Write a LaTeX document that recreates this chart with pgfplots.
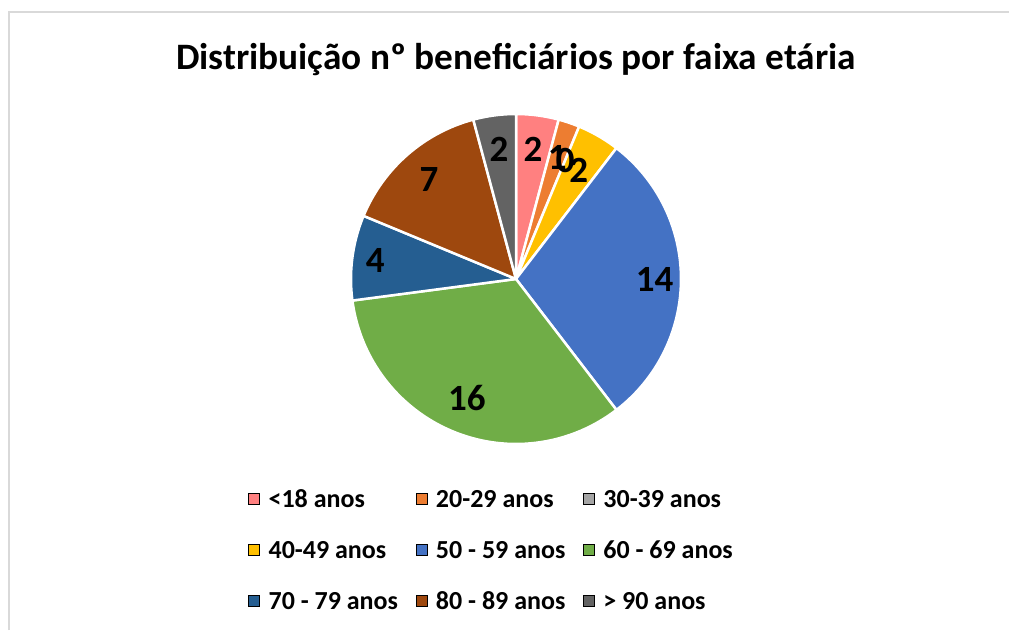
\documentclass[border=0pt]{standalone}
\usepackage{fontspec}
\setmainfont{Carlito}
\usepackage{pgfplots}
\pgfplotsset{compat=1.18}
\usepackage{pgfplotstable}

\definecolor{c1}{RGB}{255,128,128}
\definecolor{c2}{RGB}{237,125,49}
\definecolor{c3}{RGB}{165,165,165}
\definecolor{c4}{RGB}{255,192,0}
\definecolor{c5}{RGB}{68,114,196}
\definecolor{c6}{RGB}{112,173,71}
\definecolor{c7}{RGB}{37,94,145}
\definecolor{c8}{RGB}{158,72,14}
\definecolor{c9}{RGB}{99,99,99}
\definecolor{frame}{RGB}{217,217,217}

% value, slice colour, radius of the data label (fraction of pie radius)
\pgfplotstableread[col sep=comma]{
label,value,col,r
<18 anos,2,c1,0.79
20-29 anos,1,c2,0.78
30-39 anos,0,c3,0.78
40-49 anos,2,c4,0.76
50 - 59 anos,14,c5,0.84
60 - 69 anos,16,c6,0.78
70 - 79 anos,4,c7,0.86
80 - 89 anos,7,c8,0.80
> 90 anos,2,c9,0.79
}\piedata

\newcommand\labelfont{\fontsize{37}{44}\selectfont\bfseries}
\newcommand\legfont{\fontsize{26}{31}\selectfont\bfseries}
\newcommand\legtxt[1]{\hspace{9pt}\makebox[147pt][l]{\rule[-8pt]{0pt}{26pt}#1}}

\pgfplotsset{
  legrow/.style={
    at={(0pt,0pt)}, anchor=origin,
    x=1pt, y=1pt, xmin=0, xmax=1009, ymin=0, ymax=630,
    hide axis, clip=false,
    legend columns=3,
    legend image code/.code={\draw[##1] (0pt,-5.5pt) rectangle (11pt,5.5pt);},
    legend style={draw=none, fill=none, inner sep=0pt, font=\legfont,
      at={(248/1009,#1/630)}, anchor=west,
      nodes={inner sep=0pt},
      /tikz/every even column/.append style={column sep=0pt}},
  },
}

\begin{document}
\begin{tikzpicture}
\path[use as bounding box] (0,0) rectangle (1009pt,630pt);
\draw[frame, line width=1.5pt] (9pt,0pt) -- (9pt,618pt) -- (1010pt,618pt);
\begin{axis}[
  at={(516pt,351pt)}, anchor=origin,
  x=165pt, y=165pt,
  xmin=-1, xmax=1, ymin=-1, ymax=1,
  hide axis, clip=false,
  title={\fontsize{37.3}{44}\selectfont\bfseries Distribuição nº beneficiários por faixa etária},
  title style={at={(0.5,1.118)}, anchor=base, inner sep=0pt},
]
\pgfmathsetmacro\pieTotal{0}
\pgfplotsforeachungrouped \i in {0,...,8}{%
  \pgfplotstablegetelem{\i}{value}\of\piedata
  \pgfmathsetmacro\pieTotal{\pieTotal+\pgfplotsretval}%
}
\pgfmathsetmacro\pieCum{0}
\pgfplotsforeachungrouped \i in {0,...,8}{%
  \pgfplotstablegetelem{\i}{value}\of\piedata \let\slVal\pgfplotsretval
  \pgfplotstablegetelem{\i}{col}\of\piedata \let\slCol\pgfplotsretval
  \pgfmathsetmacro\slS{90-\pieCum/\pieTotal*360}%
  \pgfmathsetmacro\slE{90-(\pieCum+\slVal)/\pieTotal*360}%
  \ifdim\slVal pt>0pt
    \edef\slCmd{\noexpand\addplot[fill=\slCol, draw=white, line width=2.5pt, line join=round,
      domain=\slE:\slS, samples=60, forget plot] ({cos(x)},{sin(x)}) -- (axis cs:0,0) -- cycle;}%
    \slCmd
  \fi
  \pgfmathsetmacro\pieCum{\pieCum+\slVal}%
}
\pgfmathsetmacro\pieCum{0}
\pgfplotsforeachungrouped \i in {0,...,8}{%
  \pgfplotstablegetelem{\i}{value}\of\piedata \let\slVal\pgfplotsretval
  \pgfplotstablegetelem{\i}{r}\of\piedata \let\slR\pgfplotsretval
  \pgfmathsetmacro\slS{90-\pieCum/\pieTotal*360}%
  \pgfmathsetmacro\slE{90-(\pieCum+\slVal)/\pieTotal*360}%
  \pgfmathsetmacro\slM{(\slS+\slE)/2}%
  \pgfmathsetmacro\slX{\slR*cos(\slM)}%
  \pgfmathsetmacro\slY{\slR*sin(\slM)}%
  \edef\slCmd{\noexpand\node[font=\noexpand\labelfont, inner sep=0pt] at (axis cs:\slX,\slY) {\slVal};}%
  \slCmd
  \pgfmathsetmacro\pieCum{\pieCum+\slVal}%
}
\end{axis}
% legend, one row per auxiliary axis
\begin{axis}[legrow=131]
\addlegendimage{fill=c1, draw=none}\addlegendentry{\legtxt{<18 anos}}
\addlegendimage{fill=c2, draw=none}\addlegendentry{\legtxt{20-29 anos}}
\addlegendimage{fill=c3, draw=none}\addlegendentry{\legtxt{30-39 anos}}
\end{axis}
\begin{axis}[legrow=80]
\addlegendimage{fill=c4, draw=none}\addlegendentry{\legtxt{40-49 anos}}
\addlegendimage{fill=c5, draw=none}\addlegendentry{\legtxt{50 - 59 anos}}
\addlegendimage{fill=c6, draw=none}\addlegendentry{\legtxt{60 - 69 anos}}
\end{axis}
\begin{axis}[legrow=29]
\addlegendimage{fill=c7, draw=none}\addlegendentry{\legtxt{70 - 79 anos}}
\addlegendimage{fill=c8, draw=none}\addlegendentry{\legtxt{80 - 89 anos}}
\addlegendimage{fill=c9, draw=none}\addlegendentry{\legtxt{> 90 anos}}
\end{axis}
\end{tikzpicture}
\end{document}
